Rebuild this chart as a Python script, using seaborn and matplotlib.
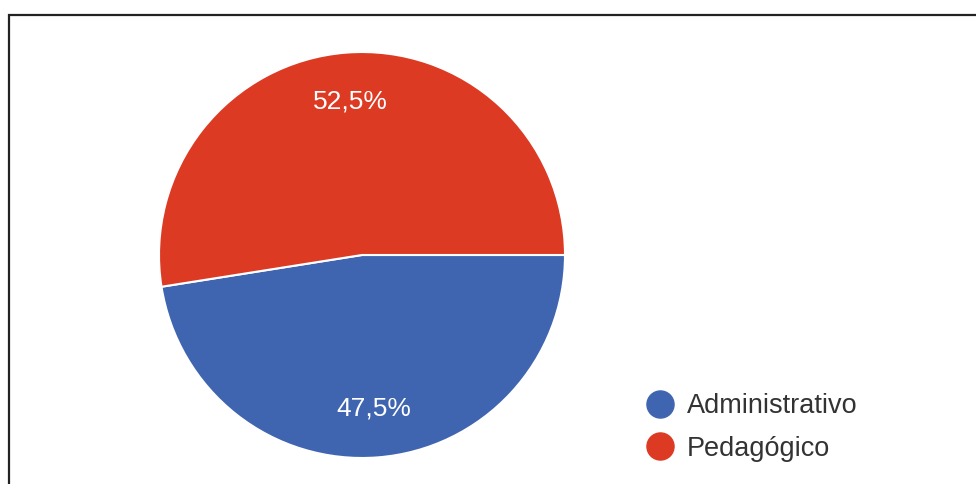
import matplotlib
matplotlib.use("Agg")
import matplotlib.pyplot as plt
from matplotlib.lines import Line2D
from matplotlib.patches import Rectangle
import seaborn as sns

# Share of respondents by area
categories = ["Administrativo", "Pedagógico"]
shares = [47.5, 52.5]
colors = ["#3F65B0", "#DD3A24"]

sns.set_theme(style="white")
plt.rcParams["font.family"] = ["Liberation Sans", "DejaVu Sans"]

W, H = 976, 484
fig = plt.figure(figsize=(W / 100, H / 100), dpi=100)
fig.patch.set_facecolor("white")

# Pie axes: centre (362, 255) px, radius 203 px
cx, cy, r = 362, 255, 203
ax = fig.add_axes([(cx - r) / W, (H - cy - r) / H, 2 * r / W, 2 * r / H])
wedges, texts, autotexts = ax.pie(
    shares,
    colors=colors,
    startangle=0,
    counterclock=False,
    autopct=lambda p: f"{p:.1f}".replace(".", ",") + "%",
    pctdistance=0.76,
    wedgeprops=dict(edgecolor="white", linewidth=1.5),
    textprops=dict(color="white", fontsize=19),
)
ax.set_xlim(-1.0, 1.0)
ax.set_ylim(-1.0, 1.0)
ax.set_aspect("equal")
ax.axis("off")
for w in wedges:
    w.set_clip_on(False)

# Legend
handles = [
    Line2D([], [], marker="o", linestyle="none", markersize=19.5,
           markerfacecolor=c, markeredgecolor=c)
    for c in colors
]
fig.legend(
    handles, categories,
    loc="upper left",
    bbox_to_anchor=(621 / W, 1 - 369 / H),
    frameon=False,
    fontsize=19.5,
    handletextpad=0.42,
    labelspacing=0.6,
    handlelength=1.1,
    labelcolor="#333333",
)

# Outer frame (open to the right and bottom)
fig.patches.append(Rectangle((8.5 / W, -0.1), 1.2, 1.1 - 15 / H,
                             transform=fig.transFigure, fill=False,
                             edgecolor="#222222", linewidth=1.6))

fig.savefig("out.png", dpi=100, facecolor="white")
